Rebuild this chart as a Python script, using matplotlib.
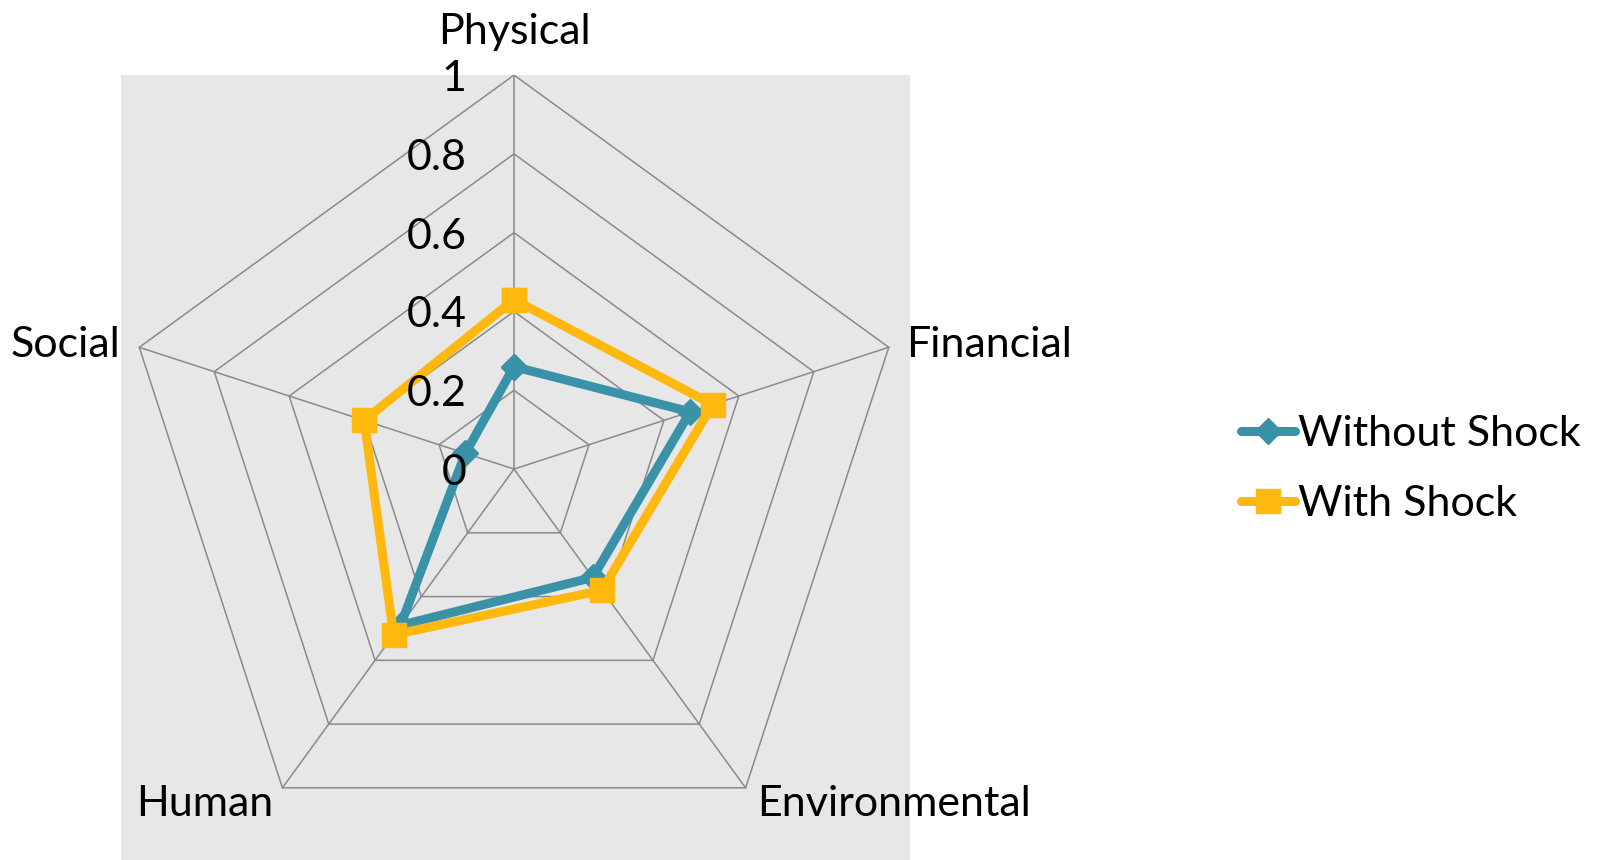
import numpy as np
import matplotlib
matplotlib.use("Agg")
from matplotlib import pyplot as plt

plt.rcParams['font.family'] = ['Lato', 'DejaVu Sans']

categories = ["Physical", "Financial", "Environmental", "Human", "Social"]
without_shock = [0.26, 0.47, 0.34, 0.49, 0.13]
with_shock = [0.43, 0.53, 0.38, 0.52, 0.40]
ring_values = [0.2, 0.4, 0.6, 0.8, 1.0]
tick_labels = ["0", "0.2", "0.4", "0.6", "0.8", "1"]

TEAL = "#3a92a8"
GOLD = "#ffb80d"
GRID = "#8a8a8a"
FS = 31


def to_xy(values):
    # first axis points straight up, the rest go clockwise
    n = len(values)
    ang = np.pi / 2 - np.arange(n) * 2 * np.pi / n
    v = np.asarray(values, dtype=float)
    x = v * np.cos(ang)
    y = v * np.sin(ang)
    return np.append(x, x[0]), np.append(y, y[0])


fig = plt.figure(figsize=(16.15, 8.6), dpi=100)
ax = fig.add_axes([121 / 1615, 0, 789 / 1615, 785 / 860])
ax.set_facecolor("#e7e7e7")
ax.set_xlim(-0.9975, 1.005)
ax.set_ylim(-0.992, 1.0)
ax.set_aspect("equal")
ax.set_xticks([])
ax.set_yticks([])
for s in ax.spines.values():
    s.set_visible(False)

n = len(categories)
# rings
for r in ring_values:
    gx, gy = to_xy([r] * n)
    ax.plot(gx, gy, color=GRID, lw=1.1, zorder=1)
# spokes
ox, oy = to_xy([1.0] * n)
for i in range(n):
    ax.plot([0, ox[i]], [0, oy[i]], color=GRID, lw=1.1, zorder=1)

# radial tick labels beside the vertical axis
for val, lab in zip([0.0] + ring_values, tick_labels):
    ax.text(-0.12, val - 0.01, lab, ha="right", va="center", fontsize=FS,
            clip_on=False, zorder=6)

# category labels
lab_pos = [
    (0.0, 1.11, "center", "center"),
    (0.995, 0.315, "left", "center"),
    (0.617, -0.85, "left", "center"),
    (-0.612, -0.85, "right", "center"),
    (-0.998, 0.315, "right", "center"),
]
for name, (lx, ly, ha, va) in zip(categories, lab_pos):
    ax.text(lx, ly, name, ha=ha, va=va, fontsize=FS, clip_on=False)

x1, y1 = to_xy(without_shock)
x2, y2 = to_xy(with_shock)
ax.plot(x1, y1, color=TEAL, lw=6.5, marker="D", ms=13, solid_capstyle="round",
        solid_joinstyle="miter", label="Without Shock", zorder=3)
ax.plot(x2, y2, color=GOLD, lw=6.5, marker="s", ms=17, solid_capstyle="round",
        solid_joinstyle="miter", label="With Shock", zorder=4)

fig.legend(loc="center left", bbox_to_anchor=(1241 / 1615, 1 - 469 / 860),
           frameon=False, fontsize=FS, handlelength=1.25, handletextpad=0.08,
           labelspacing=0.75, borderpad=0, borderaxespad=0)

plt.savefig("out.png", dpi=100)
